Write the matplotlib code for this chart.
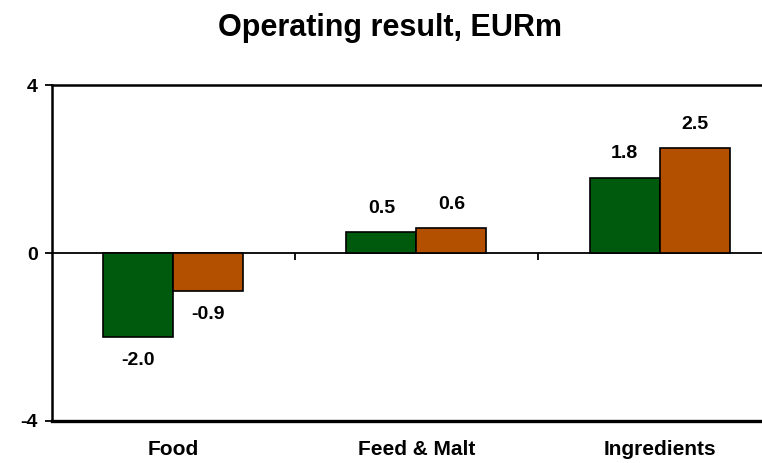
import numpy as np
import matplotlib.pyplot as plt

plt.rcParams['font.family'] = ['Liberation Sans', 'DejaVu Sans']

categories = ['Food', 'Feed & Malt', 'Ingredients']
series_a = [-2.0, 0.5, 1.8]
series_b = [-0.9, 0.6, 2.5]
y_ticks = [-4, 0, 4]

green = '#005a0e'
orange = '#b35000'

fig = plt.figure(figsize=(7.62, 4.63), dpi=100)
ax = fig.add_axes([0.068, 0.091, 0.957, 0.725])

x = np.arange(len(categories))
w = 0.288
bars_a = ax.bar(x - w / 2, series_a, w, color=green, edgecolor='black', linewidth=1.2, zorder=3)
bars_b = ax.bar(x + w / 2, series_b, w, color=orange, edgecolor='black', linewidth=1.2, zorder=3)

ax.set_xlim(-0.5, len(categories) - 0.5)
ax.set_ylim(-4, 4)

# value labels
for bars, vals in ((bars_a, series_a), (bars_b, series_b)):
    for b, v in zip(bars, vals):
        off = 11 if v >= 0 else -11
        ax.annotate(f'{v:.1f}', (b.get_x() + b.get_width() / 2, v),
                    xytext=(0, off), textcoords='offset points',
                    ha='center', va='bottom' if v >= 0 else 'top',
                    fontsize=14, fontweight='bold', zorder=4)

# axes lines
ax.spines['right'].set_visible(False)
ax.spines['top'].set_linewidth(1.8)
ax.spines['left'].set_linewidth(1.8)
ax.spines['bottom'].set_position(('data', 0))
ax.spines['bottom'].set_linewidth(1.3)
ax.axhline(-4, color='black', linewidth=2.4, clip_on=False, zorder=2)

ax.set_xticks([0.5, 1.5])
ax.set_xticklabels([])
ax.tick_params(axis='x', direction='out', length=5, width=1.3)
ax.set_yticks(y_ticks)
ax.set_yticklabels([str(t) for t in y_ticks], fontsize=14, fontweight='bold')
ax.tick_params(axis='y', direction='out', length=5, width=1.3, pad=5)

for i, c in enumerate(categories):
    ax.annotate(c, (i, -4), xytext=(0, -14), textcoords='offset points',
                ha='center', va='top', fontsize=15, fontweight='bold')

fig.text(0.512, 0.94, 'Operating result, EURm', ha='center', va='center',
         fontsize=22, fontweight='bold')

fig.savefig('out.png', dpi=100)
